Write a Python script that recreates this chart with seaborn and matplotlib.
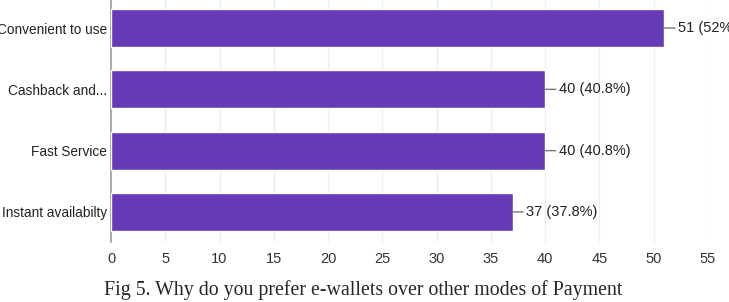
import matplotlib
matplotlib.use("Agg")
import matplotlib.pyplot as plt
import seaborn as sns
import pandas as pd

# data
reasons = ["Convenient to use", "Cashback and...", "Fast Service", "Instant availabilty"]
counts = [51, 40, 40, 37]
percents = ["52%", "40.8%", "40.8%", "37.8%"]
x_ticks = [0, 5, 10, 15, 20, 25, 30, 35, 40, 45, 50, 55]

df = pd.DataFrame({"reason": reasons, "count": counts})

sns.set_style("white")
plt.rcParams["font.family"] = ["Liberation Sans", "DejaVu Sans"]

fig = plt.figure(figsize=(7.29, 3.02), dpi=100)
ax = fig.add_axes([0.1523, 0.1987, 0.8187, 0.8013])

sns.barplot(data=df, x="count", y="reason", color="#673AB7", saturation=1,
            width=0.62, ax=ax, zorder=3)

ax.set_xlim(0, 55)
ax.set_ylim(3.49, -0.457)
ax.set_xticks(x_ticks)
ax.grid(axis="x", color="#eeeeee", linewidth=1, zorder=0)
ax.set_xlabel("")
ax.set_ylabel("")
for side in ["top", "right", "bottom"]:
    ax.spines[side].set_visible(False)
ax.spines["left"].set_color("#9e9e9e")
ax.spines["left"].set_linewidth(1.2)
ax.tick_params(axis="y", length=0, pad=3, labelsize=9.8, labelcolor="#222222")
ax.tick_params(axis="x", length=0, pad=7, labelsize=10.5, labelcolor="#333333")

# value labels with short leader line
for i, (c, p) in enumerate(zip(counts, percents)):
    ax.annotate(f"{c} ({p})", xy=(c, i), xytext=(10, 0), textcoords="offset points",
                ha="left", va="center", fontsize=10.5, color="#222222",
                arrowprops=dict(arrowstyle="-", color="#777777", lw=1, shrinkA=0, shrinkB=0),
                annotation_clip=False)

fig.text(0.4986, 0.04, "Fig 5. Why do you prefer e-wallets over other modes of Payment",
         ha="center", va="center", fontsize=14.3, family=["Liberation Serif", "DejaVu Serif"])

fig.savefig("out.png", dpi=100)
